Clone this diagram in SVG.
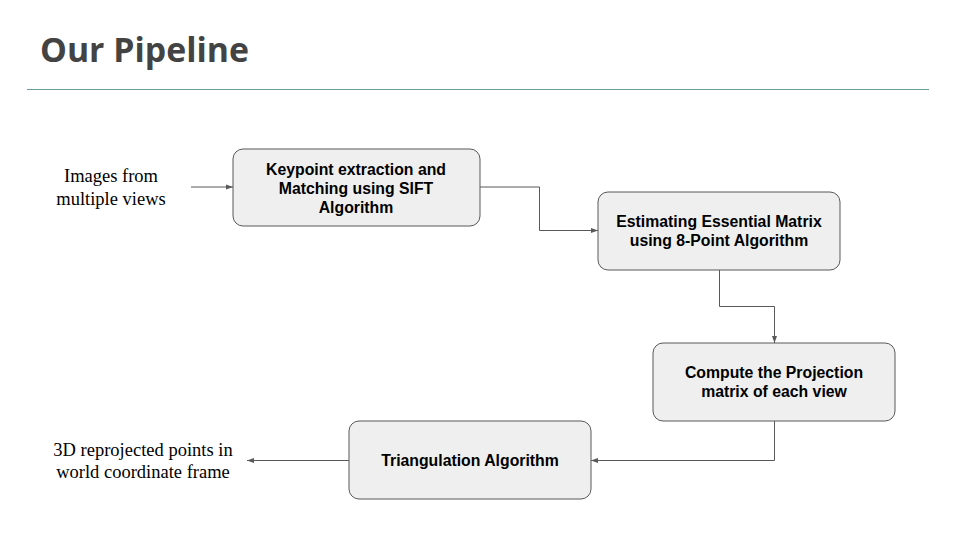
<svg xmlns="http://www.w3.org/2000/svg" width="960" height="540" viewBox="0 0 960 540">
<defs>
<marker id="arr" markerWidth="8" markerHeight="8" refX="7" refY="4" orient="auto" markerUnits="userSpaceOnUse">
<path d="M0,1.5 L7,4 L0,6.5 Z" fill="#595959"/>
</marker>
<style>
.box{fill:#efefef;stroke:#595959;stroke-width:1}
.bt{font-family:"Liberation Sans",Arial,sans-serif;font-weight:bold;font-size:15.8px;fill:#000;text-anchor:middle}
.lt{font-family:"Liberation Serif","Times New Roman",serif;font-size:18.5px;fill:#000;text-anchor:middle}
.conn{fill:none;stroke:#595959;stroke-width:1;marker-end:url(#arr)}
</style>
</defs>
<rect width="960" height="540" fill="#fff"/>
<text x="40" y="62" font-family="'Open Sans',sans-serif" font-weight="bold" font-size="33.8" fill="#434343">Our Pipeline</text>
<line x1="27" y1="89.5" x2="929" y2="89.5" stroke="#6b9e99" stroke-width="1"/>
<g id="connectors">
<path class="conn" d="M191,187 H233"/>
<path class="conn" d="M480,187 H539.5 V230.5 H598"/>
<path class="conn" d="M719.5,270 V306.5 H774.5 V343"/>
<path class="conn" d="M774.5,421 V460.5 H591"/>
<path class="conn" d="M349,460.5 H247"/>
</g>
<g id="label-input">
<text class="lt" x="111" y="182">Images from</text>
<text class="lt" x="111" y="205">multiple views</text>
</g>
<g id="label-output">
<text class="lt" x="143" y="456">3D reprojected points in</text>
<text class="lt" x="143" y="478">world coordinate frame</text>
</g>
<g id="node-sift">
<rect class="box" x="233" y="149" width="247" height="77" rx="10"/>
<text class="bt" x="356" y="175">Keypoint extraction and</text>
<text class="bt" x="356" y="194">Matching using SIFT</text>
<text class="bt" x="356" y="213">Algorithm</text>
</g>
<g id="node-essential">
<rect class="box" x="598" y="192" width="242" height="78" rx="10"/>
<text class="bt" x="719" y="227">Estimating Essential Matrix</text>
<text class="bt" x="719" y="246">using 8-Point Algorithm</text>
</g>
<g id="node-projection">
<rect class="box" x="653" y="343" width="242" height="78" rx="10"/>
<text class="bt" x="774" y="378">Compute the Projection</text>
<text class="bt" x="774" y="397">matrix of each view</text>
</g>
<g id="node-triangulation">
<rect class="box" x="349" y="421" width="242" height="78" rx="10"/>
<text class="bt" x="470" y="466">Triangulation Algorithm</text>
</g>
</svg>
